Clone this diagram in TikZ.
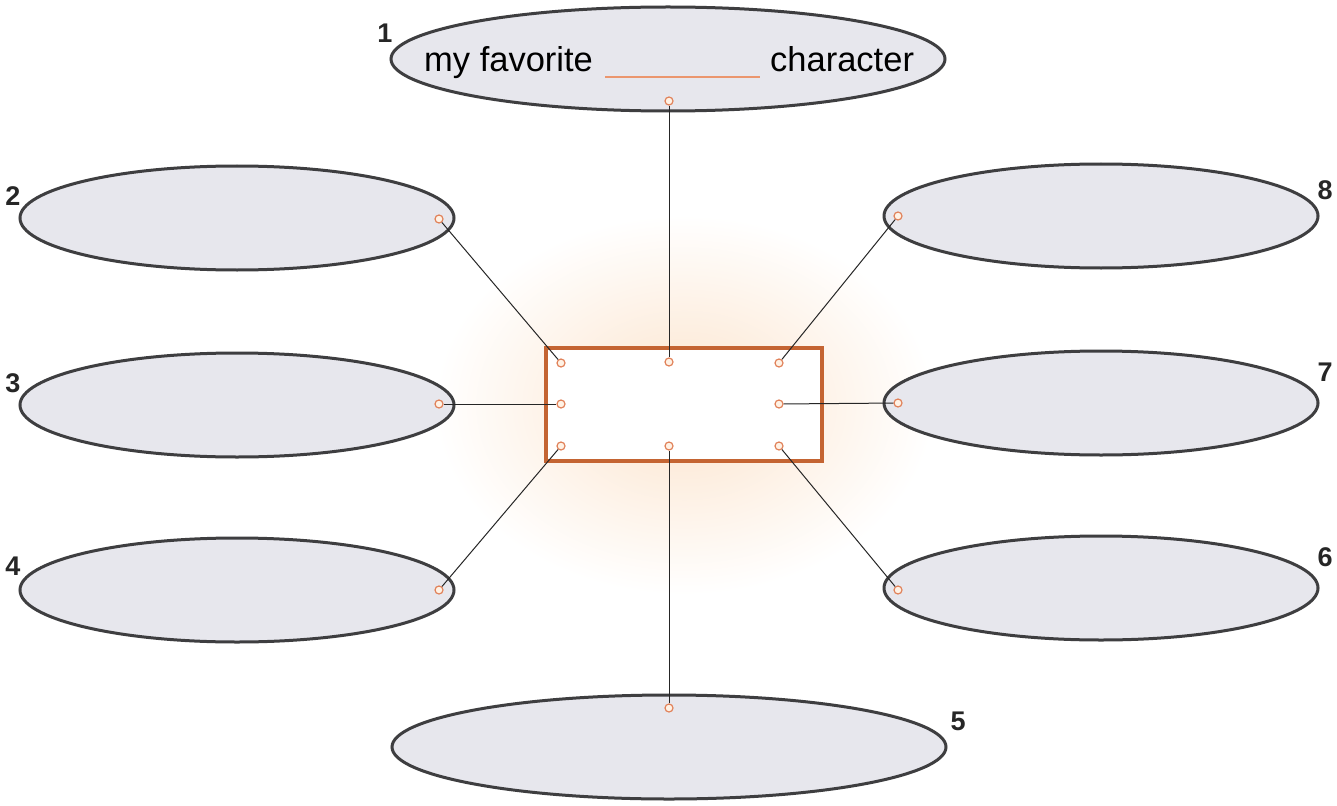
\documentclass[tikz,border=0pt]{standalone}
\usepackage{fontspec}
\setmainfont{Liberation Sans}
\usetikzlibrary{shapes.geometric}
\definecolor{ellfill}{RGB}{231,231,237}
\definecolor{ellline}{RGB}{62,62,64}
\definecolor{boxline}{RGB}{196,100,50}
\definecolor{dotline}{RGB}{225,130,90}
\definecolor{blankline}{RGB}{235,150,110}
\definecolor{glow}{RGB}{252,228,205}
\tikzset{
  bubble/.style={ellipse, draw=ellline, line width=3pt, fill=ellfill, minimum width=434pt, minimum height=104pt, inner sep=0pt},
  bigbubble/.style={bubble, minimum width=554pt},
  pin/.style={circle, draw=dotline, line width=1.2pt, fill=white!90!orange, minimum size=8pt, inner sep=0pt},
  link/.style={draw=black!85, line width=1pt},
  num/.style={font=\fontsize{27}{27}\selectfont\bfseries, text=black!85, inner sep=0pt},
  centrebox/.style={draw=boxline, line width=4.5pt, fill=white, minimum width=276pt, minimum height=113pt, inner sep=0pt}
}
\begin{document}
\begin{tikzpicture}[x=1pt,y=-1pt]
\useasboundingbox (0,0) rectangle (1337,805);
\fill[white] (0,0) rectangle (1337,805);
\shade[inner color=glow, outer color=white] (684,405) ellipse (250 and 190);
% ellipses
\node[bigbubble] (e1) at (668,59) {};
\node[bubble] (e2) at (237,218) {};
\node[bubble] (e3) at (237,405) {};
\node[bubble] (e4) at (237,590) {};
\node[bigbubble] (e5) at (669,747) {};
\node[bubble] (e6) at (1101,588) {};
\node[bubble] (e7) at (1101,403) {};
\node[bubble] (e8) at (1101,216) {};
% centre box
\node[centrebox] (box) at (684,404.5) {};
% title text
\node[anchor=base west, inner sep=0pt, font=\fontsize{34.5}{34.5}\selectfont] (t1) at (424,72) {my favorite};
\node[anchor=base west, inner sep=0pt, font=\fontsize{34.5}{34.5}\selectfont] (t2) at (770,72) {character};
\coordinate (bl) at (605,77);
\coordinate (br) at (760,77);
\draw[blankline, line width=1.2pt] (bl) -- (br);
% numbers
\node[num] (n1) at (385,33) {1};
\node[num] (n2) at (13,196) {2};
\node[num] (n3) at (13,383) {3};
\node[num] (n4) at (13,566) {4};
\node[num] (n5) at (958,721) {5};
\node[num] (n6) at (1325,557) {6};
\node[num] (n7) at (1325,372) {7};
\node[num] (n8) at (1325,190) {8};
% pins on box
\node[pin] (b1) at (669,362) {};
\node[pin] (b2) at (561,363) {};
\node[pin] (b3) at (561,404) {};
\node[pin] (b4) at (561,446) {};
\node[pin] (b5) at (669,446) {};
\node[pin] (b6) at (779,446) {};
\node[pin] (b7) at (779,404) {};
\node[pin] (b8) at (779,363) {};
% pins on ellipses
\node[pin] (p1) at (669,101) {};
\node[pin] (p2) at (439,219) {};
\node[pin] (p3) at (439,404) {};
\node[pin] (p4) at (439,590) {};
\node[pin] (p5) at (669,708) {};
\node[pin] (p6) at (898,590) {};
\node[pin] (p7) at (898,403) {};
\node[pin] (p8) at (898,216) {};
% connectors
\foreach \i in {1,...,8} {\draw[link] (p\i) -- (b\i);}
\end{tikzpicture}
\end{document}
